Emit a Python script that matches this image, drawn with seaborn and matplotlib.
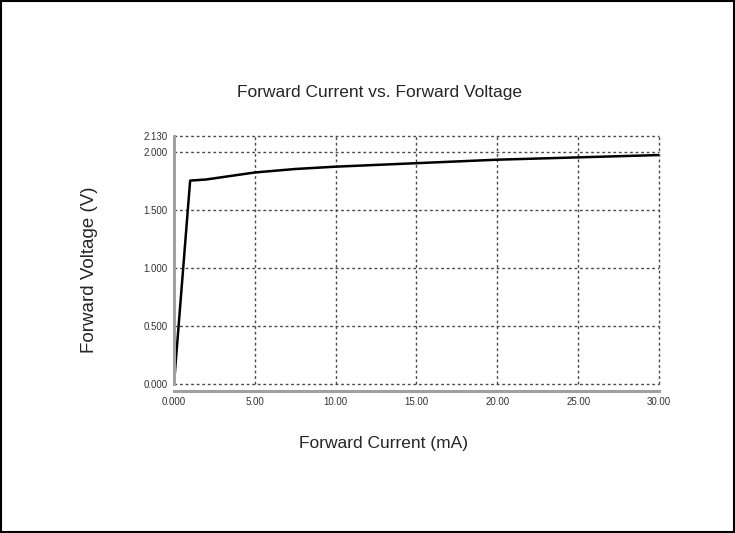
import matplotlib
matplotlib.use("Agg")
import matplotlib.pyplot as plt
import seaborn as sns
import pandas as pd

# forward current (mA) vs forward voltage (V)
current_ma = [0, 1, 2, 3, 4, 5, 7.5, 10, 15, 20, 25, 30]
voltage_v = [0, 1.75, 1.76, 1.78, 1.80, 1.82, 1.85, 1.87, 1.90, 1.93, 1.95, 1.97]

x_ticks = [0, 5, 10, 15, 20, 25, 30]
x_tick_labels = ["0.000", "5.00", "10.00", "15.00", "20.00", "25.00", "30.00"]
y_ticks = [0, 0.5, 1.0, 1.5, 2.0, 2.13]
y_tick_labels = ["0.000", "0.500", "1.000", "1.500", "2.000", "2.130"]

df = pd.DataFrame({"current": current_ma, "voltage": voltage_v})

sns.set_style("white")
plt.rcParams["font.family"] = ["Liberation Sans", "DejaVu Sans"]

fig = plt.figure(figsize=(7.35, 5.33), dpi=100)
ax = fig.add_axes([0.2367, 0.2795, 0.6599, 0.4645])

sns.lineplot(data=df, x="current", y="voltage", color="black", linewidth=1.8, ax=ax)

# spine offset first: set_position resets the tick labels
for side in ["top", "right"]:
    ax.spines[side].set_visible(False)
ax.spines["left"].set_color("#a0a0a0")
ax.spines["left"].set_linewidth(2.2)
ax.spines["bottom"].set_color("#a0a0a0")
ax.spines["bottom"].set_linewidth(2.2)
ax.spines["bottom"].set_position(("outward", 5))

ax.set_xlim(0, 30)
ax.set_ylim(0, 2.13)
ax.set_xticks(x_ticks)
ax.set_xticklabels(x_tick_labels, fontsize=7)
ax.set_yticks(y_ticks)
ax.set_yticklabels(y_tick_labels, fontsize=7)
ax.tick_params(axis="both", length=3, width=0.8, color="#555555", pad=1.5,
               labelcolor="#333333", direction="out")

ax.grid(True, linestyle=(0, (2, 2)), color="#4a4a4a", linewidth=1.0)
for line in ax.get_xgridlines() + ax.get_ygridlines():
    line.set_clip_on(False)

ax.set_xlabel("Forward Current (mA)", fontsize=12.5)
ax.xaxis.set_label_coords(0.431, -0.211)
ax.set_ylabel("Forward Voltage (V)", fontsize=13.5)
ax.yaxis.set_label_coords(-0.156, 0.46)
fig.text(0.516, 0.826, "Forward Current vs. Forward Voltage", ha="center", va="center", fontsize=12.5)

# thin black frame round the whole picture
fig.patches.append(plt.Rectangle((0.001, 0.001), 0.998, 0.998, transform=fig.transFigure,
                                 fill=False, edgecolor="black", linewidth=1.5))

fig.savefig("out.png", dpi=100)
